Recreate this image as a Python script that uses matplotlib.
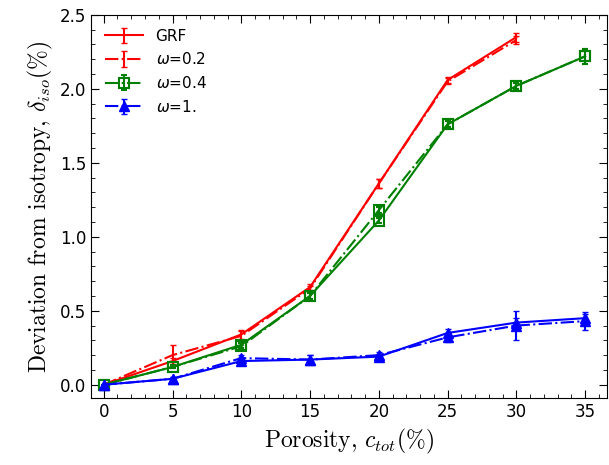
import numpy as np
import matplotlib
matplotlib.use("Agg")
import matplotlib.pyplot as plt
from matplotlib.ticker import MultipleLocator

# porosity values (%)
porosity = [0, 5, 10, 15, 20, 25, 30, 35]

# deviation from isotropy (%), solid / dash-dot pairs
grf = [0.0, 0.16, 0.34, 0.66, 1.36, 2.06, 2.35]
grf_err = [0.0, 0.02, 0.03, 0.02, 0.03, 0.02, 0.03]
w02 = [0.0, 0.20, 0.33, 0.65, 1.36, 2.05, 2.33]
w02_err = [0.0, 0.07, 0.03, 0.02, 0.03, 0.02, 0.03]

w04_solid = [0.0, 0.12, 0.27, 0.60, 1.11, 1.76, 2.02, 2.22]
w04_solid_err = [0.0, 0.01, 0.02, 0.02, 0.02, 0.02, 0.02, 0.05]
w04 = [0.0, 0.12, 0.26, 0.60, 1.18, 1.76, 2.02, 2.22]
w04_err = [0.0, 0.01, 0.02, 0.02, 0.02, 0.02, 0.02, 0.05]

w1_solid = [0.0, 0.04, 0.16, 0.17, 0.19, 0.35, 0.42, 0.45]
w1_solid_err = [0.0, 0.01, 0.02, 0.03, 0.02, 0.03, 0.03, 0.03]
w1 = [0.0, 0.04, 0.18, 0.17, 0.20, 0.32, 0.40, 0.43]
w1_err = [0.0, 0.01, 0.02, 0.03, 0.02, 0.03, 0.095, 0.06]

fig, ax = plt.subplots(figsize=(6.09, 4.65), dpi=100)
fig.subplots_adjust(left=0.15, right=0.997, top=0.968, bottom=0.144)

ax.errorbar(porosity[:7], grf, yerr=grf_err, color='red', ls='-', capsize=2, label='GRF')
ax.errorbar(porosity[:7], w02, yerr=w02_err, color='red', ls='-.', capsize=2, label=r'$\omega$=0.2')
ax.errorbar(porosity, w04_solid, yerr=w04_solid_err, color='green', ls='-', marker='s',
            mfc='none', ms=7, mew=1.5, capsize=2)
ax.errorbar(porosity, w04, yerr=w04_err, color='green', ls='-.', marker='s',
            mfc='none', ms=7, mew=1.5, capsize=2, label=r'$\omega$=0.4')
ax.errorbar(porosity, w1_solid, yerr=w1_solid_err, color='blue', ls='-', marker='^',
            ms=7, capsize=2)
ax.errorbar(porosity, w1, yerr=w1_err, color='blue', ls='-.', marker='^',
            ms=7, capsize=2, label=r'$\omega$=1.')

ax.set_xlim(-0.9, 36.6)
ax.set_ylim(-0.09, 2.5)
ax.xaxis.set_major_locator(MultipleLocator(5))
ax.xaxis.set_minor_locator(MultipleLocator(1))
ax.yaxis.set_major_locator(MultipleLocator(0.5))
ax.yaxis.set_minor_locator(MultipleLocator(0.1))
ax.tick_params(which='both', direction='in', top=True, right=True, labelsize=12)
ax.tick_params(which='major', length=6)
ax.tick_params(which='minor', length=3)

ax.set_xlabel(r'Porosity, $c_{tot}(\%)$', fontname='cmr10', fontsize=17,
              math_fontfamily='cm')
ax.set_ylabel(r'Deviation from isotropy, $\delta_{iso}(\%)$', fontname='cmr10',
              fontsize=17, math_fontfamily='cm')

ax.legend(loc='upper left', frameon=False, fontsize=11, handlelength=2.5)

plt.savefig('out.png', dpi=100)
